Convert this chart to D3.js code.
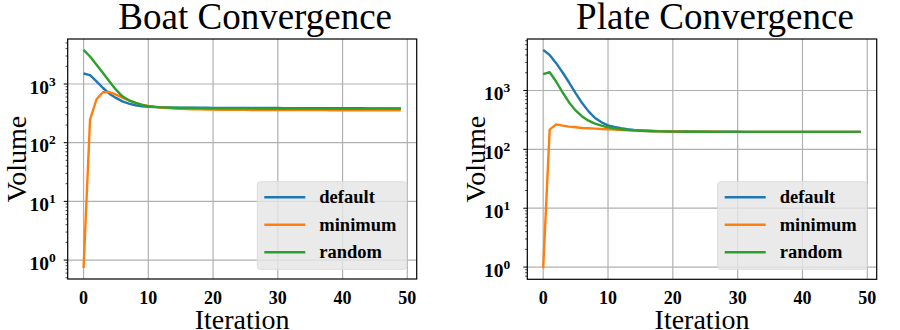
<!DOCTYPE html>
<html>
<head>
<meta charset="utf-8">
<script src="https://cdn.jsdelivr.net/npm/d3@7"></script>
<style>
  body { margin: 0; background: #fff; }
  svg { display: block; }
  text { font-family: "Liberation Serif", "Times New Roman", serif; fill: #000; }
</style>
</head>
<body>
<div id="chart"></div>
<script>
// Series names and colours (matplotlib tab10)
var seriesNames = ["default", "minimum", "random"];
var seriesColors = ["#1f77b4", "#ff7f0e", "#2ca02c"];

// Iteration 0..49
var iterations = d3.range(0, 50);

// Boat volumes
var boatDefault = [1510,1420,1110,855,685,580,507,464,434,417,410,404,400,398,396,395,394,394,393,393,392,392,391,391,391,390,390,390,389,389,389,388,388,388,388,387,387,387,387,386,386,386,386,386,385,385,385,385,385,385];
var boatMinimum = [0.73,248,550,722,731,660,586,527,482,446,424,410,398,390,383,378,374,371,369,367,366,365,364,363,362,362,361,361,361,360,360,360,360,359,359,359,359,362,358,358,358,358,358,357,357,357,355,357,357,357];
var boatRandom = [3810,2940,2120,1535,1107,800,617,527,476,441,417,407,400,396,393,391,390,389,388,387,386,386,385,385,384,384,384,383,383,383,382,382,382,382,381,381,381,381,381,380,380,380,380,380,380,380,380,380,380,380];

// Plate volumes
var plateDefault = [4890,4020,2910,2020,1366,904,612,442,341,288,256,240,228,220,214,210,207,205,204,203,202,201,201,200,200,200,199,199,199,199,199,198,198,198,198,198,198,198,198,198,198,198,198,198,198,198,198,198,198,198];
var plateMinimum = [0.95,216,265,253,243,237,231,228,225,222,219,216,213,211,209,207,205,204,203,202,201,200,200,199,199,199,199,199,198,198,198,198,198,198,198,198,198,198,198,198,198,198,198,198,198,198,198,198,198,198];
var plateRandom = [1893,2045,1420,925,626,459,363,307,273,253,237,228,220,214,210,207,205,203,202,201,200,200,199,199,199,199,198,198,198,198,198,198,198,198,198,198,198,198,198,198,198,198,198,198,198,198,198,198,198,198];

// Tick labels
var xTicks = [0, 10, 20, 30, 40, 50];
var yTickExps = [0, 1, 2, 3];

var svg = d3.select("#chart").append("svg")
  .attr("width", 900)
  .attr("height", 330);

function drawPanel(p) {
  var g = svg.append("g");
  var left = p.left, right = p.right, top = 39, bottom = p.bottom;

  var x = d3.scaleLinear().domain([-2.45, 51.45]).range([left, right]);

  // matplotlib style 5% margin in log space
  var all = [].concat(p.series[0], p.series[1], p.series[2]);
  var lo = Math.log10(d3.min(all)), hi = Math.log10(d3.max(all));
  var pad = (hi - lo) * 0.05;
  var y = d3.scaleLog()
    .domain([Math.pow(10, lo - pad), Math.pow(10, hi + pad)])
    .range([bottom, top]);

  // grid
  g.selectAll(".gx").data(xTicks).enter().append("line")
    .attr("x1", d => x(d)).attr("x2", d => x(d))
    .attr("y1", top).attr("y2", bottom)
    .attr("stroke", "#b0b0b0").attr("stroke-width", 1.2);
  g.selectAll(".gy").data(yTickExps).enter().append("line")
    .attr("x1", left).attr("x2", right)
    .attr("y1", d => y(Math.pow(10, d))).attr("y2", d => y(Math.pow(10, d)))
    .attr("stroke", "#b0b0b0").attr("stroke-width", 1.2);

  // lines
  var line = d3.line()
    .x((d, i) => x(iterations[i]))
    .y(d => y(d));
  p.series.forEach(function(s, k) {
    g.append("path")
      .datum(s)
      .attr("d", line)
      .attr("fill", "none")
      .attr("stroke", seriesColors[k])
      .attr("stroke-width", 2.4)
      .attr("stroke-linejoin", "round");
  });

  // frame
  g.append("rect")
    .attr("x", left).attr("y", top)
    .attr("width", right - left).attr("height", bottom - top)
    .attr("fill", "none").attr("stroke", "#000").attr("stroke-width", 1.2);

  // y ticks (major + minor)
  var minor = [];
  var d0 = y.domain();
  for (var e = -1; e <= 4; e++) {
    for (var m = 2; m <= 9; m++) {
      var v = m * Math.pow(10, e);
      if (v >= d0[0] && v <= d0[1]) minor.push(v);
    }
  }
  g.selectAll(".mt").data(minor).enter().append("line")
    .attr("x1", left - 2.2).attr("x2", left)
    .attr("y1", d => y(d)).attr("y2", d => y(d))
    .attr("stroke", "#000").attr("stroke-width", 0.7);
  g.selectAll(".Mt").data(yTickExps).enter().append("line")
    .attr("x1", left - 4).attr("x2", left)
    .attr("y1", d => y(Math.pow(10, d))).attr("y2", d => y(Math.pow(10, d)))
    .attr("stroke", "#000").attr("stroke-width", 1);

  var yl = g.selectAll(".yl").data(yTickExps).enter().append("text")
    .attr("x", left - p.tickGap)
    .attr("y", d => y(Math.pow(10, d)) + 9.5)
    .attr("text-anchor", "end")
    .attr("font-weight", "bold")
    .attr("font-size", 19.5);
  yl.append("tspan").text("10");
  yl.append("tspan")
    .attr("dy", -8)
    .attr("font-size", 13.5)
    .text(d => d);

  // x tick labels
  g.selectAll(".xl").data(xTicks).enter().append("text")
    .attr("x", d => x(d))
    .attr("y", bottom + 24.5)
    .attr("text-anchor", "middle")
    .attr("font-weight", "bold")
    .attr("font-size", 18)
    .text(d => d);

  // title and axis labels
  g.append("text")
    .attr("x", (left + right) / 2 + 13)
    .attr("y", 28.5)
    .attr("text-anchor", "middle")
    .attr("font-size", 37)
    .text(p.title);
  g.append("text")
    .attr("x", (left + right) / 2)
    .attr("y", 329)
    .attr("text-anchor", "middle")
    .attr("font-size", 28)
    .text("Iteration");
  g.append("text")
    .attr("transform", "translate(" + (left - 42) + "," + ((top + bottom) / 2) + ") rotate(-90)")
    .attr("text-anchor", "middle")
    .attr("font-size", 28)
    .text("Volume");

  // legend
  var lg = g.append("g");
  lg.append("rect")
    .attr("x", p.legX).attr("y", 181.7)
    .attr("width", 149.4).attr("height", 87.6)
    .attr("rx", 3)
    .attr("fill", "#e5e5e5").attr("fill-opacity", 0.82)
    .attr("stroke", "#dcdcdc").attr("stroke-width", 1);
  seriesNames.forEach(function(name, k) {
    var yy = 197.3 + k * 27.5;
    lg.append("line")
      .attr("x1", p.legX + 7).attr("x2", p.legX + 48)
      .attr("y1", yy).attr("y2", yy)
      .attr("stroke", seriesColors[k]).attr("stroke-width", 2.4);
    lg.append("text")
      .attr("x", p.legX + 62)
      .attr("y", yy + 6)
      .attr("font-weight", "bold")
      .attr("font-size", 18.5)
      .text(name);
  });
}

drawPanel({
  title: "Boat Convergence",
  left: 67.7, right: 416.7, bottom: 279,
  legX: 257.3, tickGap: 12,
  series: [boatDefault, boatMinimum, boatRandom]
});

drawPanel({
  title: "Plate Convergence",
  left: 527.3, right: 876.7, bottom: 279.3,
  legX: 717.7, tickGap: 17,
  series: [plateDefault, plateMinimum, plateRandom]
});
</script>
</body>
</html>
